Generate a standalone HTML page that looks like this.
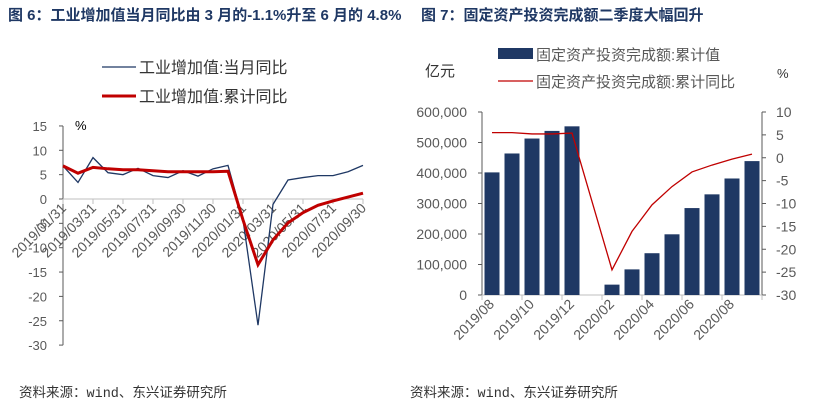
<!DOCTYPE html>
<html><head><meta charset="utf-8"><style>
body{margin:0;background:#fff;width:829px;height:410px;overflow:hidden}
svg{display:block;font-family:"Liberation Sans","Noto Sans CJK SC",sans-serif}
.t{fill:#595959;font-size:13px}
.x{fill:#595959;font-size:14px}
</style></head><body>
<svg id="s" width="829" height="410">
<text x="8" y="20" font-size="15" font-weight="bold" fill="#1f3864">图 6：工业增加值当月同比由 3 月的-1.1%升至 6 月的 4.8%</text>
<text x="421" y="20" font-size="15" font-weight="bold" fill="#1f3864">图 7：固定资产投资完成额二季度大幅回升</text>
<g>
<line x1="102" y1="67" x2="136" y2="67" stroke="#1f3864" stroke-width="1.3"/>
<text x="139" y="73" font-size="16" fill="#333">工业增加值:当月同比</text>
<line x1="102" y1="96" x2="136" y2="96" stroke="#c00000" stroke-width="3"/>
<text x="139" y="102" font-size="16" fill="#333">工业增加值:累计同比</text>
</g>
<text x="75" y="130" font-size="13" fill="#000">%</text>
<g>
<rect x="498" y="48" width="35" height="11" fill="#1f3864"/>
<text x="536" y="60" font-size="15" fill="#595959">固定资产投资完成额:累计值</text>
<line x1="498" y1="81" x2="533" y2="81" stroke="#c00000" stroke-width="1.3"/>
<text x="536" y="87" font-size="15" fill="#595959">固定资产投资完成额:累计同比</text>
</g>
<text x="425" y="76" font-size="15" fill="#333">亿元</text>
<text x="777" y="78" font-size="13" fill="#333">%</text>
<text x="19" y="397" font-size="13.5" fill="#333" font-family="Liberation Mono,'Noto Sans CJK SC',monospace">资料来源：wind、东兴证券研究所</text>
<text x="410" y="397" font-size="13.5" fill="#333" font-family="Liberation Mono,'Noto Sans CJK SC',monospace">资料来源：wind、东兴证券研究所</text>
<g id="L"></g><g id="R"></g>
</svg>
<script>
const lCats=["2019/01/31","2019/02/28","2019/03/31","2019/04/30","2019/05/31","2019/06/30","2019/07/31","2019/08/31","2019/09/30","2019/10/31","2019/11/30","2019/12/31","2020/01/31","2020/02/29","2020/03/31","2020/04/30","2020/05/31","2020/06/30","2020/07/31","2020/08/31","2020/09/30"];
const lMonthly=[6.8,3.4,8.5,5.4,5.0,6.3,4.8,4.4,5.8,4.7,6.2,6.9,-4.3,-25.9,-1.1,3.9,4.4,4.8,4.8,5.6,6.9];
const lCum=[6.8,5.3,6.5,6.2,6.0,6.0,5.8,5.6,5.6,5.6,5.6,5.7,-4.3,-13.5,-8.4,-4.9,-2.8,-1.3,-0.4,0.4,1.2];
const lTicks=[15,10,5,0,-5,-10,-15,-20,-25,-30];
const rCats=["2019/08","2019/09","2019/10","2019/11","2019/12","2020/01","2020/02","2020/03","2020/04","2020/05","2020/06","2020/07","2020/08","2020/09"];
const rVals=[402000,464000,513000,538000,553000,null,34000,84000,137000,199000,285000,330000,382000,439000];
const rYoy=[5.5,5.5,5.2,5.2,5.4,null,-24.5,-16.1,-10.3,-6.3,-3.1,-1.6,-0.3,0.8];
const rLTicks=[0,100000,200000,300000,400000,500000,600000];
const rRTicks=[10,5,0,-5,-10,-15,-20,-25,-30];
const NS="http://www.w3.org/2000/svg";
function mk(p,tag,a,txt){const e=document.createElementNS(NS,tag);for(const k in a)e.setAttribute(k,a[k]);if(txt!=null)e.textContent=txt;p.appendChild(e);return e;}
const L=document.getElementById('L');
const lx=i=>63+i*15, ly=v=>199-v*4.87;
let ax=mk(L,'line',{x1:63,y1:ly(15),x2:63,y2:ly(-30),stroke:'#595959'});


lTicks.forEach(t=>{
 mk(L,'line',{x1:59,x2:63,y1:ly(t),y2:ly(t),stroke:'#595959'});
 const e=mk(L,'text',{x:47,y:ly(t)+5,'text-anchor':'end',class:'t'},t);
 
 
});
ax=mk(L,'line',{x1:63,y1:ly(0),x2:363,y2:ly(0),stroke:'#bfbfbf'});


lCats.forEach((c,i)=>{ if(i%2)return;
 mk(L,'line',{x1:lx(i),x2:lx(i),y1:ly(0),y2:ly(0)+5,stroke:'#bfbfbf'});
 const e=mk(L,'text',{x:lx(i)+4,y:ly(0)+10,'text-anchor':'end',class:'x',transform:`rotate(-45 ${lx(i)+4} ${ly(0)+10})`},c);
 
 
});
let p=mk(L,'polyline',{points:lMonthly.map((v,i)=>lx(i)+','+ly(v)).join(' '),fill:'none',stroke:'#1f3864','stroke-width':1.3});


p=mk(L,'polyline',{points:lCum.map((v,i)=>lx(i)+','+ly(v)).join(' '),fill:'none',stroke:'#c00000','stroke-width':3});


const R=document.getElementById('R');
const rx=i=>482+10+i*20, ryl=v=>295-v*(183/600000), ryr=v=>295-(v+30)*(183/40);
ax=mk(R,'line',{x1:482,y1:112,x2:482,y2:295,stroke:'#595959'});


ax=mk(R,'line',{x1:762,y1:112,x2:762,y2:295,stroke:'#595959'});


ax=mk(R,'line',{x1:482,y1:295,x2:762,y2:295,stroke:'#bfbfbf'});


rLTicks.forEach(t=>{
 mk(R,'line',{x1:478,x2:482,y1:ryl(t),y2:ryl(t),stroke:'#595959'});
 const e=mk(R,'text',{x:467,y:ryl(t)+5,'text-anchor':'end',class:'x'},t.toLocaleString('en-US'));
 
 
});
rRTicks.forEach(t=>{
 mk(R,'line',{x1:762,x2:766,y1:ryr(t),y2:ryr(t),stroke:'#595959'});
 const e=mk(R,'text',{x:776,y:ryr(t)+5,class:'x'},t);
 
 
});
for(let i=0;i<=rCats.length;i+=2) mk(R,'line',{x1:482+i*20,x2:482+i*20,y1:295,y2:300,stroke:'#bfbfbf'});
rCats.forEach((c,i)=>{
 if(rVals[i]!=null){
  const b=mk(R,'rect',{x:rx(i)-7.5,y:ryl(rVals[i]),width:15,height:295-ryl(rVals[i]),fill:'#1f3864'});
  
  
 }
 if(i%2===0){
  const e=mk(R,'text',{x:rx(i)+3,y:305,'text-anchor':'end',class:'x',transform:`rotate(-45 ${rx(i)+3} 305)`},c);
  
  
 }
});
p=mk(R,'polyline',{points:rYoy.map((v,i)=>v==null?'':rx(i)+','+ryr(v)).filter(s=>s).join(' '),fill:'none',stroke:'#c00000','stroke-width':1.3});


</script>
</body></html>
